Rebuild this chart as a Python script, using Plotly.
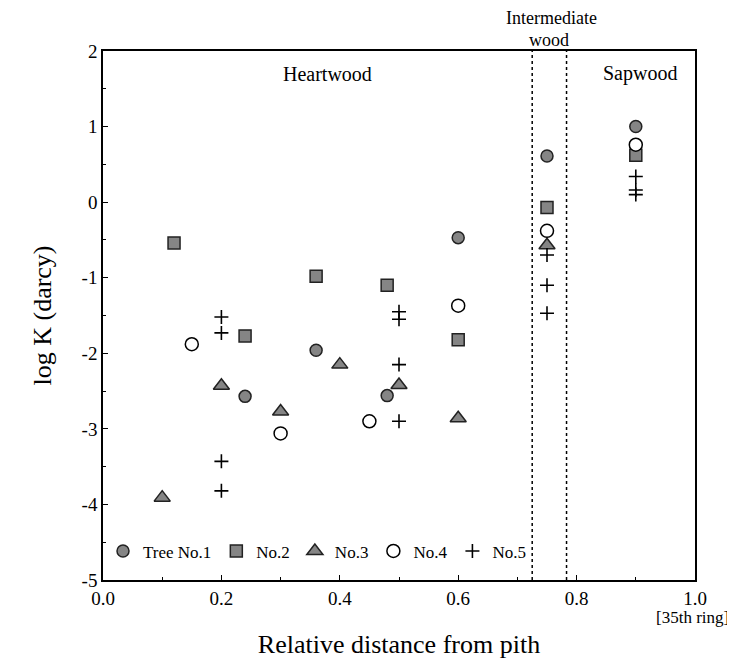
import plotly.graph_objects as go

# ---- data ----
tree1_x = [0.24, 0.36, 0.48, 0.60, 0.75, 0.90]
tree1_y = [-2.57, -1.96, -2.56, -0.47, 0.61, 1.00]

tree2_x = [0.12, 0.24, 0.36, 0.48, 0.60, 0.75, 0.90]
tree2_y = [-0.54, -1.77, -0.98, -1.10, -1.82, -0.07, 0.62]

tree3_x = [0.10, 0.20, 0.30, 0.40, 0.50, 0.60, 0.75]
tree3_y = [-3.91, -2.43, -2.77, -2.15, -2.42, -2.86, -0.57]

tree4_x = [0.15, 0.30, 0.45, 0.60, 0.75, 0.90]
tree4_y = [-1.88, -3.06, -2.90, -1.37, -0.38, 0.76]

tree5_x = [0.20, 0.20, 0.20, 0.20, 0.50, 0.50, 0.50, 0.50, 0.75, 0.75, 0.75, 0.90, 0.90, 0.90]
tree5_y = [-1.52, -1.73, -3.43, -3.82, -1.45, -1.55, -2.15, -2.90, -0.70, -1.10, -1.47, 0.34, 0.16, 0.10]

series_names = ["Tree No.1", "No.2", "No.3", "No.4", "No.5"]
boundaries = [0.725, 0.783]
x_ticks = [0.0, 0.2, 0.4, 0.6, 0.8, 1.0]
x_ticklabels = ["0.0", "0.2", "0.4", "0.6", "0.8", "1.0"]
y_ticks = [-5, -4, -3, -2, -1, 0, 1, 2]
y_ticklabels = ["-5", "-4", "-3", "-2", "-1", "0", "1", "2"]

FONT = "Liberation Serif, Times New Roman, serif"
GRAY = "#858585"
EDGE = "#222222"

fig = go.Figure()
fig.add_trace(go.Scatter(x=tree1_x, y=tree1_y, mode="markers", name=series_names[0],
                         marker=dict(symbol="circle", size=12, color=GRAY, line=dict(color=EDGE, width=1.5))))
fig.add_trace(go.Scatter(x=tree2_x, y=tree2_y, mode="markers", name=series_names[1],
                         marker=dict(symbol="square", size=12, color=GRAY, line=dict(color=EDGE, width=1.5))))
fig.add_trace(go.Scatter(x=tree3_x, y=tree3_y, mode="markers", name=series_names[2],
                         marker=dict(symbol="triangle-up", size=14, color=GRAY, line=dict(color=EDGE, width=1.5))))
fig.add_trace(go.Scatter(x=tree4_x, y=tree4_y, mode="markers", name=series_names[3],
                         marker=dict(symbol="circle", size=13, color="white", line=dict(color="black", width=1.5))))
fig.add_trace(go.Scatter(x=tree5_x, y=tree5_y, mode="markers", name=series_names[4],
                         marker=dict(symbol="cross-thin", size=10, color="black", line=dict(color="black", width=1.6))))

for b in boundaries:
    fig.add_shape(type="line", xref="x", yref="paper", x0=b, x1=b, y0=0, y1=1,
                  line=dict(color="black", width=1.5, dash="dot"))

fig.add_annotation(x=0.38, y=1.7, xref="x", yref="y", text="Heartwood", showarrow=False,
                   font=dict(family=FONT, size=20, color="black"))
fig.add_annotation(x=0.907, y=1.7, xref="x", yref="y", text="Sapwood", showarrow=False,
                   font=dict(family=FONT, size=20, color="black"))
fig.add_annotation(x=0.757, y=1.0, xref="x", yref="paper", yanchor="middle", yshift=33,
                   text="Intermediate", showarrow=False,
                   font=dict(family=FONT, size=18, color="black"))
fig.add_annotation(x=0.754, y=1.0, xref="x", yref="paper", yanchor="middle", yshift=11,
                   text="wood", showarrow=False,
                   font=dict(family=FONT, size=18, color="black"))
fig.add_annotation(x=1.0, y=0, xref="x", yref="paper", xanchor="right", yanchor="middle",
                   xshift=36, yshift=-37,
                   text="[35th ring]", showarrow=False, font=dict(family=FONT, size=17, color="black"))

fig.update_layout(
    width=727, height=651,
    margin=dict(l=95, r=40, t=43, b=79, autoexpand=False),
    paper_bgcolor="white", plot_bgcolor="white",
    font=dict(family=FONT, size=19, color="black"),
    showlegend=True,
    legend=dict(orientation="h", x=0.0, y=0.02, xanchor="left", yanchor="bottom",
                bgcolor="rgba(0,0,0,0)", font=dict(family=FONT, size=17),
                itemwidth=30, tracegroupgap=0),
)
fig.update_xaxes(range=[0, 1], tickvals=x_ticks, ticktext=x_ticklabels, automargin=False,
                 showgrid=False, zeroline=False, showline=True, linecolor="black", linewidth=1.5,
                 mirror=True, ticks="inside", ticklen=5, tickcolor="black",
                 minor=dict(dtick=0.1, ticks="inside", ticklen=3, tickcolor="black"),
                 title=dict(text="Relative distance from pith", font=dict(family=FONT, size=26), standoff=28))
fig.update_yaxes(range=[-5, 2], tickvals=y_ticks, ticktext=y_ticklabels, automargin=False,
                 showgrid=False, zeroline=False, showline=True, linecolor="black", linewidth=1.5,
                 mirror=True, ticks="inside", ticklen=5, tickcolor="black",
                 minor=dict(dtick=0.5, ticks="inside", ticklen=3, tickcolor="black"),
                 title=dict(text="log K (darcy)", font=dict(family=FONT, size=26), standoff=23))

fig.write_html("out.html")
